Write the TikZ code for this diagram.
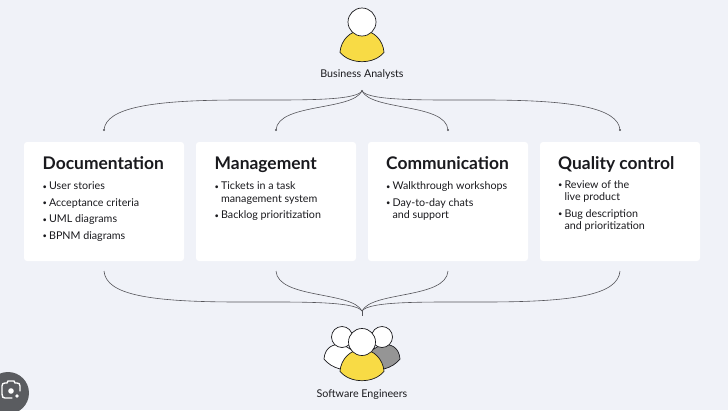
\documentclass[tikz,border=0pt]{standalone}
\usepackage{fontspec}
\setmainfont{Lato}
\definecolor{bgc}{HTML}{F0F2F8}
\definecolor{ink}{HTML}{1A1A1E}
\definecolor{yel}{HTML}{F8DB45}
\definecolor{gry}{HTML}{959595}
\definecolor{lensc}{HTML}{5A5C60}
\definecolor{linec}{HTML}{55555A}
\newcommand{\bul}{\makebox[6.4pt][l]{\raisebox{0.4pt}{\fontsize{7.5}{8}\selectfont •}}}
\tikzset{
  card/.style={fill=white,rounded corners=3pt,minimum width=160pt,minimum height=119pt,inner sep=0pt,draw=none},
  ttl/.style={anchor=base west,inner sep=0pt,font=\fontsize{17.4}{20}\selectfont\bfseries,text=ink},
  itm/.style={anchor=base west,inner sep=0pt,font=\fontsize{10.7}{12.6}\selectfont,text=ink,align=left},
  caplabel/.style={anchor=base,inner sep=0pt,font=\fontsize{10.7}{12.6}\selectfont,text=ink},
  link/.style={draw=linec,line width=0.6pt},
  tipdot/.style={fill=linec,draw=none},
  headdisc/.style={draw=ink,line width=0.7pt,fill=white,circle,inner sep=0pt},
  torso/.style={draw=ink,line width=0.7pt,line join=round},
}
\newcommand{\bodyshape}[3]{% centre x, top y of shoulders, fill
  \path[torso,fill=#3] (#1-22,#2+22.3) .. controls (#1-21,#2+10) and (#1-12,#2+1) .. (#1,#2)
    .. controls (#1+12,#2+1) and (#1+21,#2+10) .. (#1+22,#2+22.3)
    .. controls (#1+12,#2+34.8) and (#1-12,#2+34.8) .. (#1-22,#2+22.3) -- cycle;}
\begin{document}
\begin{tikzpicture}[x=1pt,y=-1pt]
\useasboundingbox (0,0) rectangle (728,410);
\fill[bgc] (0,0) rectangle (728,410);
% cards
\node[card] (c1) at (104,201.5) {};
\node[card] (c2) at (276,201.5) {};
\node[card] (c3) at (448,201.5) {};
\node[card] (c4) at (620,201.5) {};
% top person
\bodyshape{362}{30}{yel}
\node[headdisc,minimum size=28pt] (ba) at (362,22) {};
\node[caplabel] (balabel) at (362,77) {Business Analysts};
% bottom people
\path[torso,fill=white] (324,359) .. controls (325,347) and (333,344) .. (342,344) -- (355,352) -- (340,369) .. controls (333,367) and (328,364) .. (324,359) -- cycle;
\path[torso,fill=gry] (400,359) .. controls (399,347) and (391,344) .. (382,344) -- (369,352) -- (384,369) .. controls (391,367) and (396,364) .. (400,359) -- cycle;
\node[headdisc,minimum size=21pt] (se1) at (342,337) {};
\node[headdisc,minimum size=21pt] (se2) at (382,337) {};
\bodyshape{362}{349}{yel}
\node[headdisc,minimum size=27pt] (se3) at (362,342) {};
\node[caplabel] (selabel) at (362,397) {Software Engineers};
% top connectors
\coordinate (ta) at (362,91);
\coordinate (t1) at (104,130);
\coordinate (t2) at (276,130);
\coordinate (t3) at (448,130);
\coordinate (t4) at (620,130);
\draw[link] (ta) .. controls (355,101) and (300,100) .. (240,100) .. controls (150,100) and (106,108) .. (t1);
\draw[link] (ta) .. controls (352,111) and (278,103) .. (t2);
\draw[link] (ta) .. controls (372,111) and (446,103) .. (t3);
\draw[link] (ta) .. controls (369,101) and (424,100) .. (484,100) .. controls (574,100) and (618,108) .. (t4);
\foreach \p in {ta,t1,t2,t3,t4}{\fill[tipdot] (\p) circle (1.2pt);}
% bottom connectors
\coordinate (ba1) at (362,311);
\coordinate (be) at (362,315.5);
\coordinate (b1) at (104,271);
\coordinate (b2) at (276,271);
\coordinate (b3) at (448,271);
\coordinate (b4) at (620,271);
\draw[link] (ba1) .. controls (355,301) and (300,302) .. (240,302) .. controls (150,302) and (106,295) .. (b1);
\draw[link] (ba1) .. controls (352,291) and (278,299) .. (b2);
\draw[link] (ba1) .. controls (372,291) and (446,299) .. (b3);
\draw[link] (ba1) .. controls (369,301) and (424,302) .. (484,302) .. controls (574,302) and (618,295) .. (b4);
\draw[link,line width=1pt] (ba1) -- (be);
% card text
\node[ttl] (t1t) at (42.5,169) {Documentation};
\node[itm] (i11) at (42.5,189.5) {\bul User stories};
\node[itm] (i12) at (42.5,206) {\bul Acceptance criteria};
\node[itm] (i13) at (42.5,222.5) {\bul UML diagrams};
\node[itm] (i14) at (42.5,239) {\bul BPNM diagrams};
\node[ttl] (t2t) at (214.5,169) {Management};
\node[itm] (i21) at (214.5,189.5) {\bul Tickets in a task};
\node[itm] (i22) at (220.9,202) {management system};
\node[itm] (i23) at (214.5,218.5) {\bul Backlog prioritization};
\node[ttl] (t3t) at (386,169) {Communication};
\node[itm] (i31) at (386,189.5) {\bul Walkthrough workshops};
\node[itm] (i32) at (386,206) {\bul Day-to-day chats};
\node[itm] (i33) at (392.4,218.5) {and support};
\node[ttl] (t4t) at (558,169) {Quality control};
\node[itm] (i41) at (558,188) {\bul Review of the};
\node[itm] (i42) at (564.4,200.5) {live product};
\node[itm] (i43) at (558,217) {\bul Bug description};
\node[itm] (i44) at (564.4,229.5) {and prioritization};
% lens button
\fill[lensc] (8,393) circle (21pt);
\draw[white,line width=1.4pt,line cap=round,line join=round] (20,391) -- (20,386) .. controls (20,384) and (19,383) .. (17,383) -- (15,383) -- (14,381) -- (8,381) -- (7,383) -- (5,383) .. controls (3,383) and (2,384) .. (2,386) -- (2,394) .. controls (2,397) and (3,398) .. (5,398) -- (12,398);
\fill[white] (11,391) circle (2.8pt);
\fill[white] (17,396) circle (1.8pt);
\end{tikzpicture}
\end{document}
